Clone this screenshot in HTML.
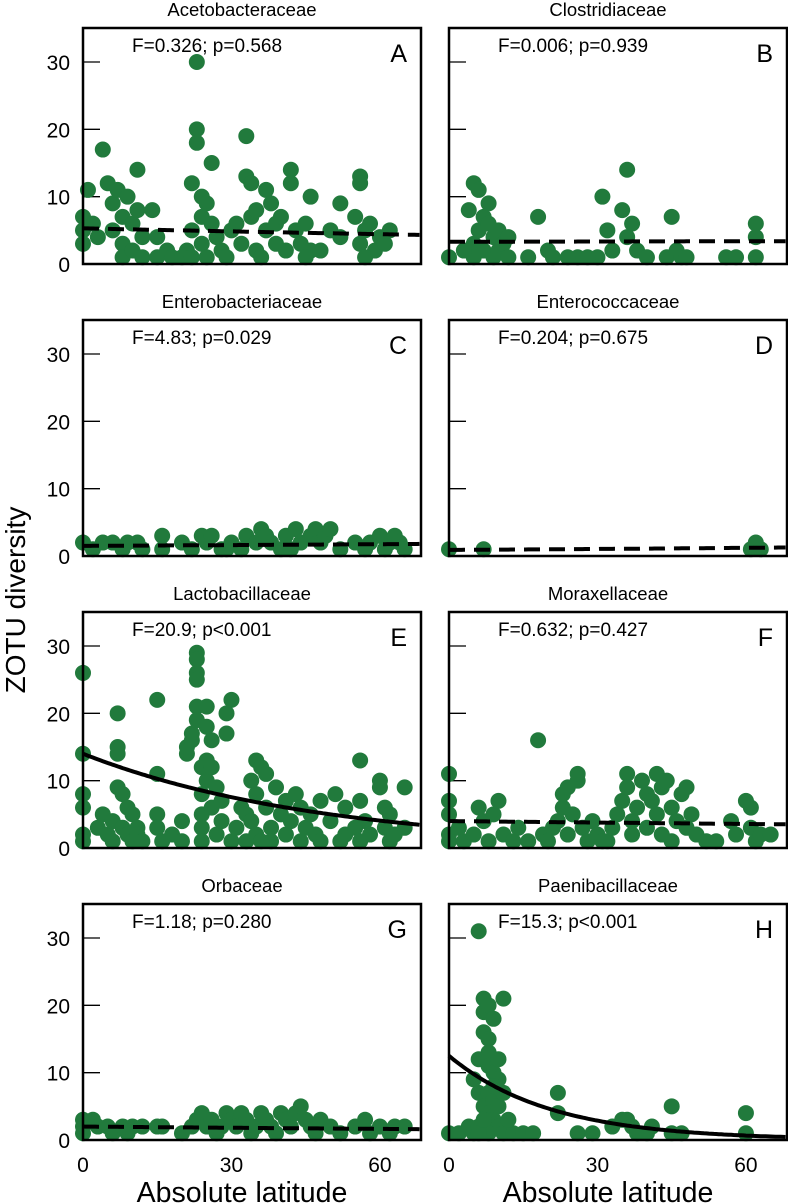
<!DOCTYPE html>
<html><head><meta charset="utf-8">
<style>
html,body{margin:0;padding:0;background:#fff;}
svg{display:block;font-family:"Liberation Sans",Arial,sans-serif;}
</style></head>
<body>
<svg id="chart" width="788" height="1204" viewBox="0 0 788 1204"></svg>
<script>
const panelTitles = ["Acetobacteraceae","Clostridiaceae","Enterobacteriaceae","Enterococcaceae","Lactobacillaceae","Moraxellaceae","Orbaceae","Paenibacillaceae"];
const panelLetters = ["A","B","C","D","E","F","G","H"];
const statLabels = ["F=0.326; p=0.568","F=0.006; p=0.939","F=4.83; p=0.029","F=0.204; p=0.675","F=20.9; p<0.001","F=0.632; p=0.427","F=1.18; p=0.280","F=15.3; p<0.001"];
const fitA = [5.3,3.3,1.5,0.9,14,4.0,2.0,12.5];
const fitB = [-0.003,0.0004,0.0026,0.005,-0.0206,-0.0019,-0.0032,-0.049];
const fitDashed = [true,true,true,true,false,true,true,false];
const yTicks = [0,10,20,30];
const xTicks = [0,30,60];
const ptsA = [[0,7],[0,5],[0,3],[1,11],[2,6],[3,4],[4,17],[5,12],[6,9],[6,5],[7,11],[8,7],[8,3],[8,1],[9,10],[10,6],[10,2],[11,14],[11,8],[12,4],[12,1],[14,8],[15,4],[15,1],[17,2],[18,1],[21,2],[22,12],[22,5],[23,20],[23,18],[23,30],[24,10],[24,7],[24,3],[25,9],[25,1],[26,15],[26,6],[27,4],[28,2],[30,5],[31,6],[32,3],[33,13],[33,19],[34,12],[34,7],[35,8],[35,2],[37,11],[37,5],[38,9],[39,6],[39,3],[40,7],[41,2],[42,14],[42,12],[43,5],[44,3],[45,6],[46,10],[46,2],[48,2],[50,5],[52,9],[52,4],[55,7],[56,13],[56,12],[56,3],[57,5],[58,6],[59,2],[60,4],[61,3],[62,5],[20,1],[22,1],[29,1],[36,1],[45,1],[57,1]];
const ptsB = [[0,1],[4,8],[5,12],[6,11],[5,3],[6,5],[7,7],[7,2],[8,9],[8,6],[9,4],[9,1],[10,5],[10,2],[11,3],[12,1],[16,1],[18,7],[20,2],[21,1],[26,1],[30,1],[31,10],[32,5],[33,2],[35,8],[36,14],[36,4],[37,6],[38,2],[40,1],[44,1],[45,7],[46,2],[47,1],[48,1],[56,1],[58,1],[62,6],[62,4],[62,1],[24,1],[28,1],[5,1],[3,2],[12,4]];
const ptsC = [[0,2],[2,1],[6,2],[8,1],[11,2],[12,1],[16,3],[16,1],[20,2],[24,3],[25,2],[26,3],[28,1],[30,2],[32,1],[33,3],[35,2],[36,4],[37,3],[38,2],[40,1],[41,3],[43,4],[44,2],[46,3],[47,4],[48,2],[49,3],[50,4],[52,1],[55,2],[57,1],[58,2],[60,3],[61,1],[62,2],[63,3],[64,2],[65,1],[22,1],[29,1],[42,1],[4,2],[9,2]];
const ptsD = [[0,1],[7,1],[61,1],[62,2],[63,1]];
const ptsE = [[0,26],[0,14],[0,8],[0,6],[0,2],[0,1],[3,3],[4,5],[5,2],[6,4],[6,1],[7,20],[7,15],[7,14],[7,9],[8,8],[8,3],[9,6],[9,2],[10,5],[10,1],[11,3],[11,2],[15,22],[15,11],[15,5],[15,3],[18,2],[20,4],[21,14],[21,15],[22,16],[22,17],[23,29],[23,28],[23,26],[23,25],[23,21],[23,19],[24,12],[24,8],[24,5],[24,3],[24,1],[25,21],[25,18],[25,13],[25,10],[26,16],[26,12],[26,6],[27,9],[27,2],[28,4],[28,7],[29,20],[29,17],[30,22],[30,1],[31,3],[32,6],[33,5],[33,1],[34,10],[34,4],[35,13],[35,8],[35,2],[36,12],[37,11],[37,6],[38,3],[38,1],[39,9],[40,5],[41,7],[41,2],[42,4],[43,8],[44,6],[44,1],[45,3],[46,5],[47,2],[48,7],[48,1],[50,4],[51,8],[53,6],[53,2],[55,3],[56,13],[56,7],[56,1],[57,4],[58,2],[60,10],[60,9],[61,6],[61,3],[62,5],[62,1],[63,2],[65,9],[65,3],[20,1],[36,1],[52,1],[12,1],[16,1]];
const ptsF = [[0,11],[0,7],[0,5],[0,2],[0,1],[2,3],[3,1],[5,2],[6,6],[7,4],[8,1],[9,5],[10,7],[11,2],[13,1],[14,3],[16,1],[18,16],[19,2],[20,1],[22,4],[23,6],[23,8],[24,9],[24,2],[25,5],[26,10],[26,11],[27,3],[28,1],[29,4],[30,2],[32,1],[33,3],[34,5],[35,7],[36,11],[36,9],[37,4],[37,2],[38,6],[39,10],[40,8],[40,3],[41,7],[42,11],[42,5],[43,9],[43,2],[44,10],[45,6],[45,1],[46,4],[47,8],[48,9],[48,3],[49,5],[50,2],[52,1],[54,1],[57,4],[58,2],[60,7],[61,6],[61,3],[62,1],[63,2],[65,2],[31,1],[21,3]];
const ptsG = [[0,3],[0,2],[0,1],[2,3],[3,2],[5,2],[6,1],[8,2],[9,1],[10,2],[12,2],[15,2],[16,2],[22,2],[23,3],[24,4],[25,2],[26,3],[27,1],[28,2],[29,4],[30,3],[31,2],[32,4],[33,3],[34,1],[35,2],[36,4],[37,3],[38,2],[40,4],[41,3],[42,2],[43,4],[44,5],[45,3],[46,2],[47,1],[48,3],[50,2],[52,1],[55,2],[57,3],[58,1],[60,2],[62,1],[63,2],[65,2],[20,1],[39,1]];
const ptsH = [[0,1],[2,1],[4,2],[5,1],[5,9],[6,31],[6,12],[6,7],[6,2],[7,21],[7,19],[7,16],[7,5],[8,20],[8,15],[8,13],[8,11],[8,7],[8,4],[9,18],[9,10],[9,6],[9,3],[10,12],[10,9],[10,5],[10,2],[11,21],[11,7],[11,1],[13,1],[15,1],[17,1],[22,7],[22,4],[26,1],[29,1],[33,2],[35,3],[36,3],[37,2],[38,1],[40,1],[41,2],[45,5],[45,1],[47,1],[60,4],[60,1],[8,1],[6,1],[12,3],[7,3],[9,8]];
const allPts = [ptsA,ptsB,ptsC,ptsD,ptsE,ptsF,ptsG,ptsH];

const NS = "http://www.w3.org/2000/svg";
const svg = document.getElementById("chart");
const PW = 338, PH = 236, XMAX = 68.3, YMAX = 35.05;
const colX = [83, 449], rowY = [28, 320, 612, 904];
function mk(tag, attrs, parent){ const e=document.createElementNS(NS,tag); for(const k in attrs) e.setAttribute(k,attrs[k]); (parent||svg).appendChild(e); return e; }

for(let i=0;i<8;i++){
  const L = colX[i%2], T = rowY[Math.floor(i/2)];
  const sx = v => L + v/XMAX*PW;
  const sy = v => T + PH - v/YMAX*PH;
  const g = mk("g",{});
  
  
  const t = mk("text",{x:L+PW/2-10,y:T-12,"font-size":"18.5","text-anchor":"middle",fill:"#000"},g);
  t.textContent = panelTitles[i];
  
  
  yTicks.forEach(v=>{
    const tk = mk("line",{x1:L,x2:L+17,y1:sy(v),y2:sy(v),stroke:"#000","stroke-width":"1.3"},g);
    
    
    if(i%2===0){
      const tl = mk("text",{x:70,y:sy(v)+8,"font-size":"21","text-anchor":"end"},g);
      tl.textContent = v;
      
      
    }
  });
  allPts[i].forEach(p=>{
    const c = mk("circle",{cx:sx(p[0]),cy:sy(p[1]),r:"8",fill:"#217a3c"},g);
    
    
  });
  let d="";
  for(let x=0;x<=XMAX;x+=0.5){ const y=fitA[i]*Math.exp(fitB[i]*x); d+=(x===0?"M":"L")+sx(x).toFixed(1)+","+sy(y).toFixed(1); }
  const fl = mk("path",{d:d,fill:"none",stroke:"#000","stroke-width":"4"},g);
  if(fitDashed[i]) fl.setAttribute("stroke-dasharray","16 9");
  
  
  const fr = mk("rect",{x:L,y:T,width:PW,height:PH,fill:"none",stroke:"#000","stroke-width":"2.5"},g);
  
  
  const st = mk("text",{x:L+49,y:T+24,"font-size":"19"},g);
  st.textContent = statLabels[i];
  
  
  const lt = mk("text",{x:L+PW-14,y:T+34,"font-size":"25","text-anchor":"end"},g);
  lt.textContent = panelLetters[i];
  
  
  if(i>=6){
    xTicks.forEach(v=>{
      const xl = mk("text",{x:sx(v),y:1172,"font-size":"21","text-anchor":"middle"},g);
      xl.textContent = v;
      
      
    });
    const xt = mk("text",{x:L+PW/2-10,y:1202,"font-size":"28.5","text-anchor":"middle"},g);
    xt.textContent = "Absolute latitude";
    
    
  }
}
const yt = mk("text",{x:0,y:0,"font-size":"28","text-anchor":"middle",transform:"translate(25,600) rotate(-90)"});
yt.textContent = "ZOTU diversity";


</script>
</body></html>
